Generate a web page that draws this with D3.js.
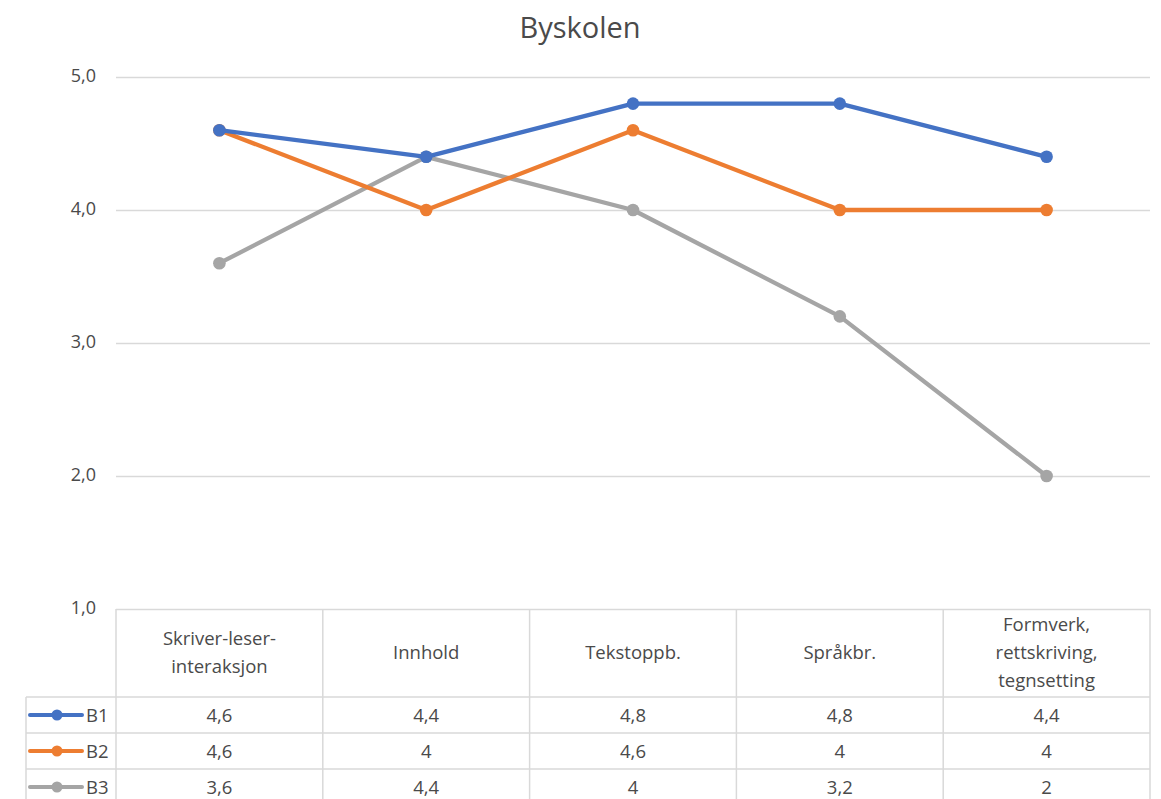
<!DOCTYPE html>
<html>
<head>
<meta charset="utf-8">
<script src="https://cdn.jsdelivr.net/npm/d3@7"></script>
<style>
  html, body { margin: 0; padding: 0; background: #fff; }
  svg text { font-family: "Open Sans", "Noto Sans", sans-serif; fill: #4a4a4a; font-weight: 500; }
</style>
</head>
<body>
<svg id="chart" width="1161" height="799"></svg>
<script>
// Category labels (multi-line headers split by "\n")
const categories = [
  "Skriver-leser-\ninteraksjon",
  "Innhold",
  "Tekstoppb.",
  "Språkbr.",
  "Formverk,\nrettskriving,\ntegnsetting"
];
const seriesNames = ["B1", "B2", "B3"];
const b1 = [4.6, 4.4, 4.8, 4.8, 4.4];
const b2 = [4.6, 4.0, 4.6, 4.0, 4.0];
const b3 = [3.6, 4.4, 4.0, 3.2, 2.0];
const yTicks = [1, 2, 3, 4, 5];
const colors = ["#4472C4", "#ED7D31", "#A5A5A5"];

const series = [b1, b2, b3].map((values, i) => ({ name: seriesNames[i], values, color: colors[i] }));

const svg = d3.select("#chart");
const plotLeft = 116, plotRight = 1150, plotTop = 77, plotBottom = 609;

const x = d3.scaleBand().domain(d3.range(categories.length)).range([plotLeft, plotRight]);
const y = d3.scaleLinear().domain([1, 5]).range([plotBottom, plotTop]);
const fmt = v => d3.format(".1f")(v).replace(".", ",");
const fmtCell = v => String(v).replace(".", ",");
const cellFont = "18.5px";

// Title
svg.append("text")
  .attr("x", 580).attr("y", 38)
  .attr("text-anchor", "middle")
  .style("font-size", "29px")
  .text("Byskolen");

// Horizontal gridlines and y tick labels
const yAxis = d3.axisLeft(y).tickValues(yTicks).tickSize(-(plotRight - plotLeft)).tickFormat(fmt).tickPadding(20);
const gy = svg.append("g").attr("transform", `translate(${plotLeft},0)`).call(yAxis);
gy.select(".domain").remove();
gy.selectAll(".tick line").attr("stroke", "#d9d9d9").attr("stroke-width", 1.3);
gy.selectAll(".tick text")
  .style("font-size", "18px")
  .style("font-family", "'Open Sans', sans-serif")
  .attr("fill", "#4a4a4a")
  .attr("dy", "0.25em");

// Data table below the plot
const headerBottom = 697;
const rowH = 36;
const tableLeft = 26;
const tableBottom = headerBottom + rowH * series.length;
const grid = svg.append("g").attr("stroke", "#d9d9d9").attr("stroke-width", 1.5);

// Vertical cell borders
const vx = d3.range(categories.length + 1).map(i => i < categories.length ? x(i) : x(categories.length - 1) + x.bandwidth());
vx.forEach(xx => grid.append("line").attr("x1", xx).attr("x2", xx).attr("y1", plotBottom).attr("y2", tableBottom + 20));
grid.append("line").attr("x1", tableLeft).attr("x2", tableLeft).attr("y1", headerBottom).attr("y2", tableBottom + 20);
// Horizontal row borders
d3.range(series.length + 1).forEach(i => {
  const yy = headerBottom + i * rowH;
  grid.append("line").attr("x1", tableLeft).attr("x2", plotRight).attr("y1", yy).attr("y2", yy);
});

// Header cells
const lineH = 28;
categories.forEach((c, i) => {
  const lines = c.split("\n");
  const cy = (plotBottom + headerBottom) / 2;
  const t = svg.append("text")
    .attr("x", x(i) + x.bandwidth() / 2)
    .attr("text-anchor", "middle")
    .style("font-size", cellFont);
  lines.forEach((ln, j) => {
    t.append("tspan")
      .attr("x", x(i) + x.bandwidth() / 2)
      .attr("y", cy + (j - (lines.length - 1) / 2) * lineH + 6)
      .text(ln);
  });
});

// Value rows with legend keys
series.forEach((s, r) => {
  const cy = headerBottom + r * rowH + rowH / 2;
  svg.append("line").attr("x1", 30).attr("x2", 82).attr("y1", cy).attr("y2", cy)
    .attr("stroke", s.color).attr("stroke-width", 4).attr("stroke-linecap", "round");
  svg.append("circle").attr("cx", 57).attr("cy", cy).attr("r", 5.5).attr("fill", s.color);
  svg.append("text").attr("x", 86).attr("y", cy + 6.5).style("font-size", cellFont).text(s.name);
  s.values.forEach((v, i) => {
    svg.append("text")
      .attr("x", x(i) + x.bandwidth() / 2)
      .attr("y", cy + 6.5)
      .attr("text-anchor", "middle")
      .style("font-size", cellFont)
      .text(fmtCell(v));
  });
});

// Lines and markers
const line = d3.line().x((d, i) => x(i) + x.bandwidth() / 2).y(d => y(d));
const seriesOrder = [2, 1, 0];
seriesOrder.forEach(k => {
  const s = series[k];
  svg.append("path").datum(s.values)
    .attr("d", line)
    .attr("fill", "none")
    .attr("stroke", s.color)
    .attr("stroke-width", 4.3)
    .attr("stroke-linejoin", "round")
    .attr("stroke-linecap", "round");
  svg.append("g").selectAll("circle").data(s.values).join("circle")
    .attr("cx", (d, i) => x(i) + x.bandwidth() / 2)
    .attr("cy", d => y(d))
    .attr("r", 6.3)
    .attr("fill", s.color);
});
</script>
</body>
</html>
